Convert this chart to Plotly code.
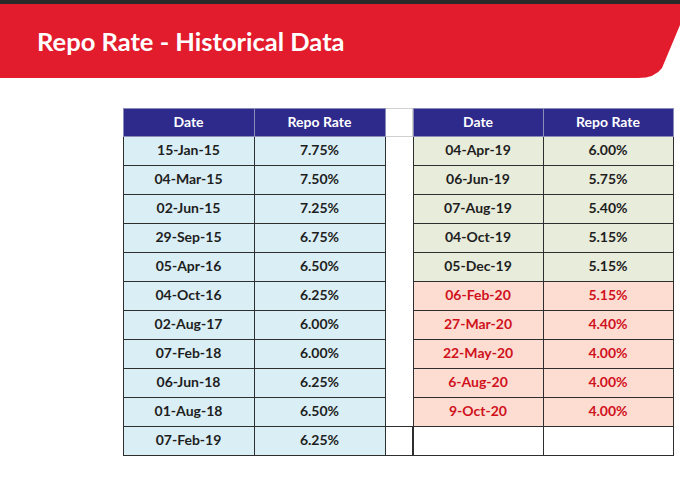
import plotly.graph_objects as go

W, H = 680, 485

# data
dates_left = ['15-Jan-15', '04-Mar-15', '02-Jun-15', '29-Sep-15', '05-Apr-16', '04-Oct-16',
              '02-Aug-17', '07-Feb-18', '06-Jun-18', '01-Aug-18', '07-Feb-19']
rates_left = [7.75, 7.50, 7.25, 6.75, 6.50, 6.25, 6.00, 6.00, 6.25, 6.50, 6.25]

dates_right = ['04-Apr-19', '06-Jun-19', '07-Aug-19', '04-Oct-19', '05-Dec-19',
               '06-Feb-20', '27-Mar-20', '22-May-20', '6-Aug-20', '9-Oct-20']
rates_right = [6.00, 5.75, 5.40, 5.15, 5.15, 5.15, 4.40, 4.00, 4.00, 4.00]

headers = ['Date', 'Repo Rate']
title = 'Repo Rate - Historical Data'

NAVY = '#2E2A8C'
BLUE = '#DAEEF5'
GREEN = '#E8ECDB'
PINK = '#FDDDD2'
RED = '#E21B2D'
RED_TXT = '#D0111C'
INK = '#1E1E1E'
LINE = '#2E2E2E'

FONT = 'Lato'
TOP, HEAD_H, ROW_H = 108, 28, 29
n_rows = len(dates_left)


def px_x(v):
    return v / W


def px_y(v):
    return 1 - v / H


def pct(vals):
    return ['%.2f%%' % v for v in vals]


fig = go.Figure()

# empty spacer column between the two halves (drawn first so the borders sit on top)
gap_vals = [''] * n_rows
fig.add_trace(go.Table(
    domain=dict(x=[px_x(385), px_x(413)], y=[0, px_y(TOP)]),
    header=dict(values=[''], fill_color='white', line=dict(color='#d0d0d0', width=1), height=HEAD_H),
    cells=dict(values=[gap_vals], fill_color='white',
               line=dict(color=[['white'] * (n_rows - 1) + [LINE]], width=1),
               height=ROW_H),
))

# left half
fig.add_trace(go.Table(
    domain=dict(x=[px_x(123), px_x(385)], y=[0, px_y(TOP)]),
    columnwidth=[1, 1],
    header=dict(values=headers, fill_color=NAVY, line=dict(color='#8c8cb8', width=1),
                align='center', height=HEAD_H,
                font=dict(family=FONT, size=14, color='white', weight='bold')),
    cells=dict(values=[dates_left, pct(rates_left)],
               fill_color=BLUE, line=dict(color=LINE, width=1),
               align='center', height=ROW_H,
               font=dict(family=FONT, size=14, color=INK, weight='bold')),
))

# right half: 2019 rows green, 2020 rows pink with red text, one blank row
pad = n_rows - len(dates_right)
fills = [GREEN if d.endswith('19') else PINK for d in dates_right] + ['white'] * pad
txt_cols = [INK if d.endswith('19') else RED_TXT for d in dates_right] + [INK] * pad
fig.add_trace(go.Table(
    domain=dict(x=[px_x(413), px_x(673)], y=[0, px_y(TOP)]),
    columnwidth=[1, 1],
    header=dict(values=headers, fill_color=NAVY, line=dict(color='#8c8cb8', width=1),
                align='center', height=HEAD_H,
                font=dict(family=FONT, size=14, color='white', weight='bold')),
    cells=dict(values=[dates_right + [''] * pad, pct(rates_right) + [''] * pad],
               fill_color=[fills, fills], line=dict(color=LINE, width=1),
               align='center', height=ROW_H,
               font=dict(family=FONT, size=14, color=[txt_cols, txt_cols], weight='bold')),
))

# slide banner
banner = ('M 0,{t} L 1,{t} L 1,{a} L {b},{c} Q {d},{e} {f},{e} L 0,{e} Z'
          .format(t=px_y(4), a=px_y(25), b=px_x(662), c=px_y(68),
                  d=px_x(655), e=px_y(78), f=px_x(638)))
fig.add_shape(type='path', path=banner, xref='paper', yref='paper',
              fillcolor=RED, line=dict(width=0), layer='below')
fig.add_shape(type='rect', x0=0, x1=1, y0=px_y(4), y1=1, xref='paper', yref='paper',
              fillcolor='#2A2A2A', line=dict(width=0), layer='below')

fig.add_annotation(text=title, x=px_x(35), y=px_y(41), xref='paper', yref='paper',
                   xanchor='left', yanchor='middle', showarrow=False,
                   font=dict(family=FONT, size=25.5, color='white', weight='bold'))

fig.update_layout(width=W, height=H, margin=dict(l=0, r=0, t=0, b=0),
                  paper_bgcolor='white', plot_bgcolor='white')

# drop the default page margin so the slide sits flush with the window
fig.write_html('out.html', config={'displayModeBar': False},
               post_script="document.body.style.margin='0';")
